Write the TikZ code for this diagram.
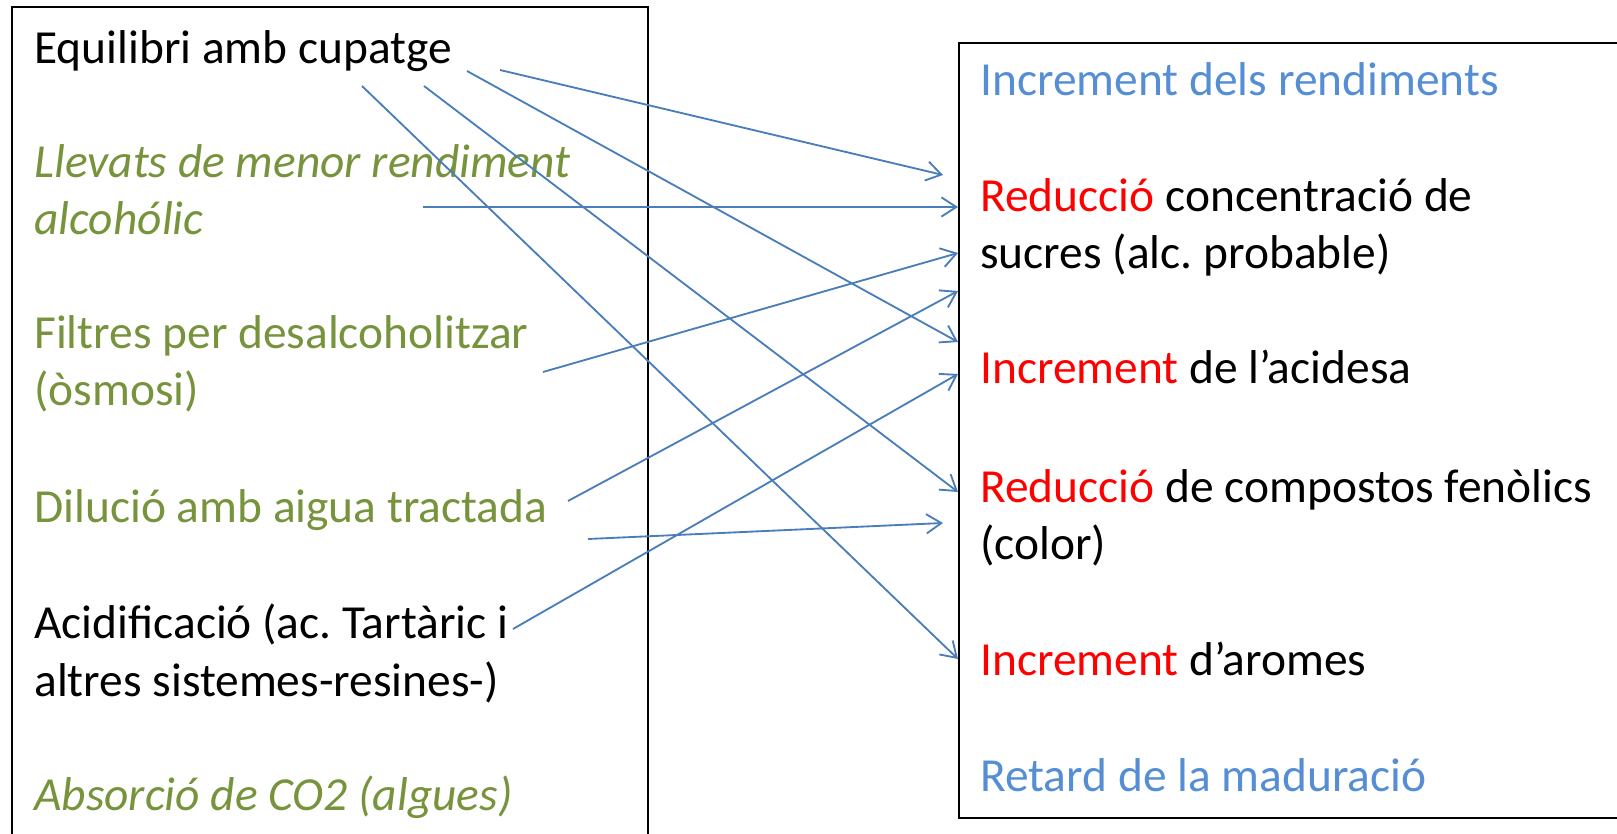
\documentclass[tikz,border=0pt]{standalone}
\usepackage{fontspec}
\setmainfont{Carlito}
\usetikzlibrary{arrows.meta}
\frenchspacing

\definecolor{linkblue}{HTML}{4A7EBB}
\definecolor{titleblue}{HTML}{558ED5}
\definecolor{olivegreen}{HTML}{77933C}
\definecolor{hlred}{HTML}{FF0000}

\begin{document}
\begin{tikzpicture}[
		x=0.02cm, y=-0.02cm,
		every node/.style={font=\fontsize{27}{32.7}\selectfont, align=left, anchor=base west, inner sep=0pt},
		arrow/.style={-{Straight Barb[length=8.5pt, width=11pt]}, linkblue, line width=1.05pt},
		green item/.style={text=olivegreen},
		blue item/.style={text=titleblue},
		box/.style={line width=1.1pt}
		]
		
		\useasboundingbox (0,0) rectangle (1617,834);
		
		% Boxes
		\draw[box] (12,834) -- (12,7) -- (648,7) -- (648,834);
		\draw[box] (1617,43) -- (959,43) -- (959,818) -- (1617,818);
		
		% Left column (two-line nodes sit on their last baseline)
		\node (cupatge) at (34,64) {Equilibri amb cupatge};
		\node[green item] (llevats) at (34,235) {\itshape Llevats de menor rendiment \\ \itshape alcohólic};
		\node[green item] (filtres) at (34,406) {Filtres per desalcoholitzar \\ (òsmosi)};
		\node[green item] (dilucio) at (34,522) {Dilució amb aigua tractada};
		\node (acidif) at (34,696) {Acidificació (ac. Tartàric i \\ altres sistemes-resines-)};
		\node[green item] (absorcio) at (34,810) {\itshape Absorció de CO2 (algues)};
		
		% Right column
		\node[blue item] (rendim) at (980,96) {Increment dels rendiments};
		\node (sucres) at (980,269) {\textcolor{hlred}{Reducció} concentració de \\ sucres (alc. probable)};
		\node (acidesa) at (980,384) {\textcolor{hlred}{Increment} de l’acidesa};
		\node (fenolics) at (980,560) {\textcolor{hlred}{Reducció} de compostos fenòlics \\ (color)};
		\node (aromes) at (980,675) {\textcolor{hlred}{Increment} d’aromes};
		\node[blue item] (retard) at (980,791) {Retard de la maduració};
		
		% Arrow ends
		\coordinate (cupatgeA) at (500,70);
		\coordinate (cupatgeB) at (467,71);
		\coordinate (cupatgeC) at (424,86);
		\coordinate (cupatgeD) at (362,86);
		\coordinate (llevatsA) at (423,207);
		\coordinate (filtresA) at (543,372);
		\coordinate (dilucioA) at (568,501);
		\coordinate (dilucioB) at (588,539);
		\coordinate (acidifA) at (513,629);
		
		\coordinate (sucresA) at (943,175);
		\coordinate (sucresB) at (958,207);
		\coordinate (sucresC) at (958,253);
		\coordinate (sucresD) at (958,291);
		\coordinate (acidesaA) at (958,342);
		\coordinate (acidesaB) at (958,374);
		\coordinate (fenolicsA) at (958,492);
		\coordinate (fenolicsB) at (943,523);
		\coordinate (aromesA) at (958,659);
		
		% Connectors
		\draw[arrow] (cupatgeA) -- (sucresA);
		\draw[arrow] (cupatgeB) -- (acidesaA);
		\draw[arrow] (cupatgeC) -- (fenolicsA);
		\draw[arrow] (cupatgeD) -- (aromesA);
		\draw[arrow] (llevatsA) -- (sucresB);
		\draw[arrow] (filtresA) -- (sucresC);
		\draw[arrow] (dilucioA) -- (sucresD);
		\draw[arrow] (dilucioB) -- (fenolicsB);
		\draw[arrow] (acidifA) -- (acidesaB);
		
	\end{tikzpicture}
\end{document}
